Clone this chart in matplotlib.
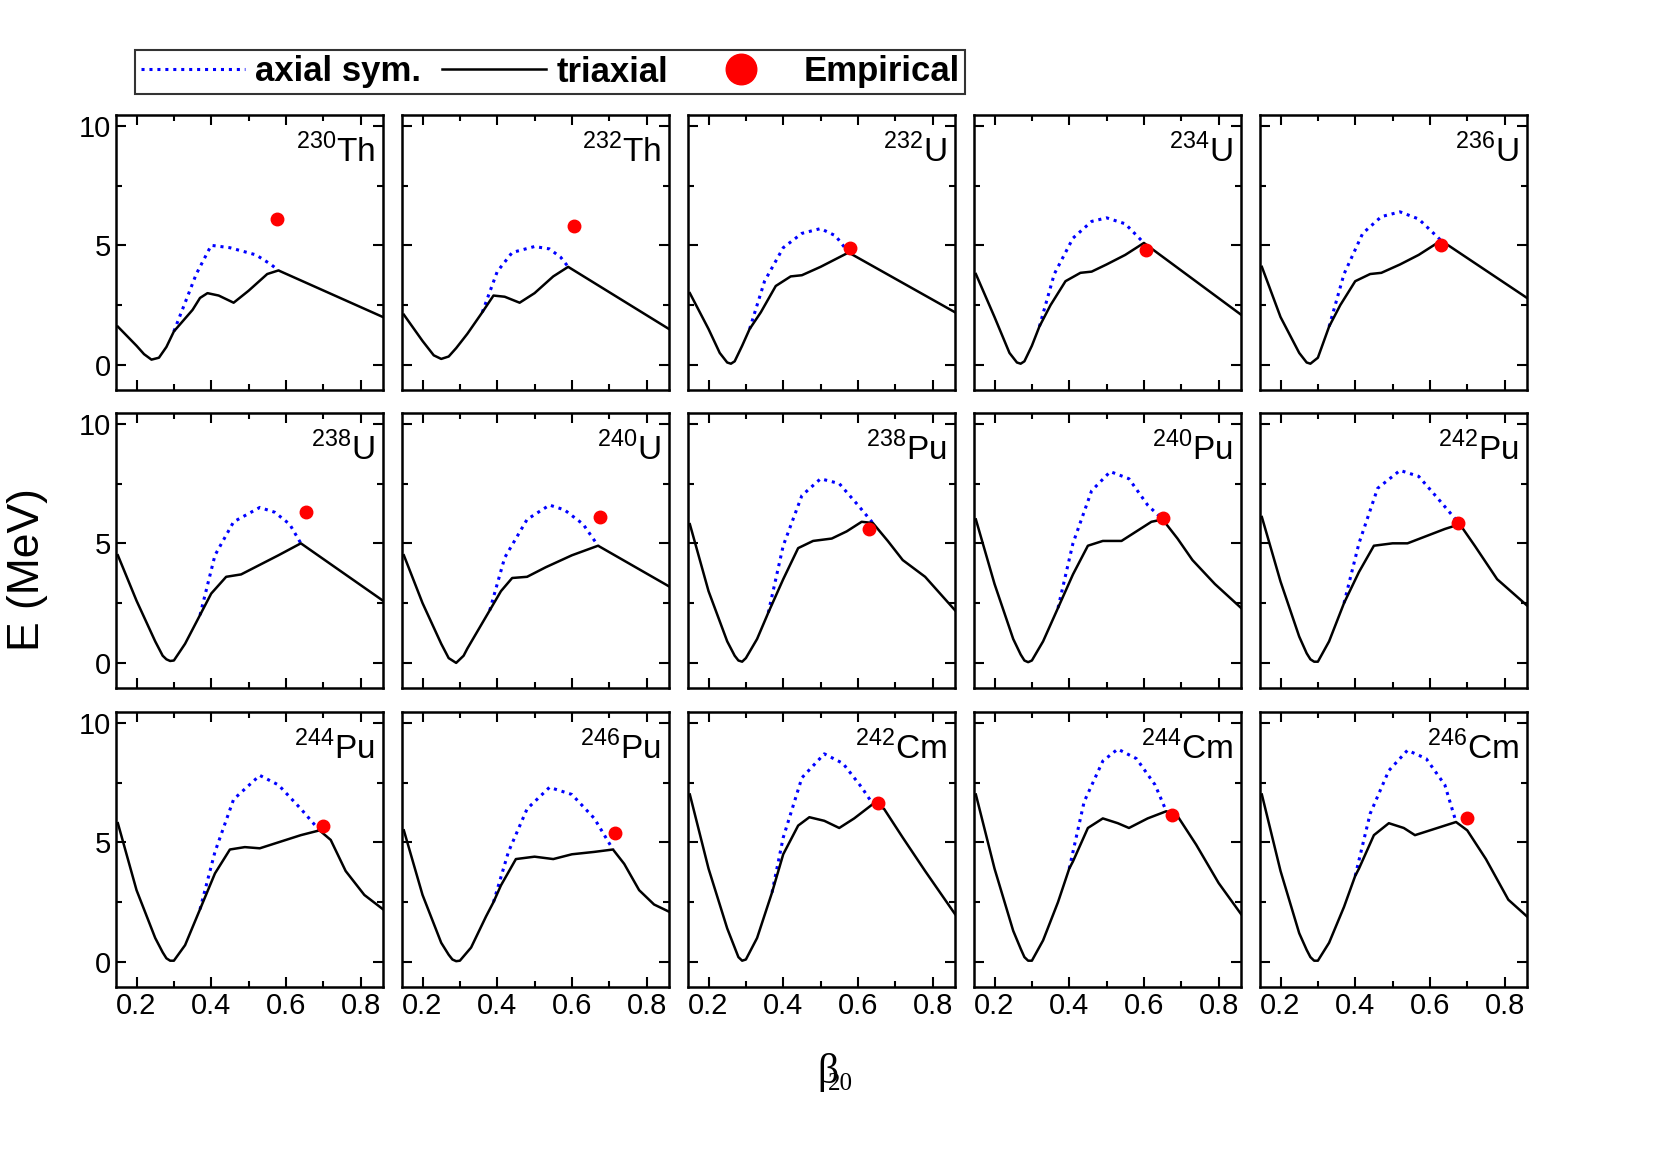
import matplotlib
matplotlib.use("Agg")
import matplotlib.pyplot as plt
from matplotlib.lines import Line2D
from matplotlib.ticker import MultipleLocator

plt.rcParams["font.family"] = ["Liberation Sans", "DejaVu Sans"]
plt.rcParams["mathtext.fontset"] = "custom"
plt.rcParams["mathtext.rm"] = "Liberation Sans"

NUCLEI = ["230Th", "232Th", "232U", "234U", "236U",
          "238U", "240U", "238Pu", "240Pu", "242Pu",
          "244Pu", "246Pu", "242Cm", "244Cm", "246Cm"]

# triaxial curves: (beta20, E)
TRI = {
    "230Th": [(0.15, 1.6), (0.2, 0.8), (0.22, 0.45), (0.24, 0.22), (0.26, 0.3), (0.28, 0.75), (0.30, 1.4),
              (0.35, 2.3), (0.37, 2.8), (0.39, 3.0), (0.42, 2.9), (0.46, 2.6), (0.50, 3.1), (0.55, 3.8),
              (0.58, 3.95), (0.86, 2.0)],
    "232Th": [(0.15, 2.1), (0.2, 1.0), (0.23, 0.4), (0.25, 0.25), (0.27, 0.35), (0.29, 0.7), (0.32, 1.3),
              (0.36, 2.2), (0.39, 2.9), (0.42, 2.85), (0.46, 2.6), (0.50, 3.0), (0.55, 3.7), (0.59, 4.1),
              (0.86, 1.5)],
    "232U": [(0.15, 3.0), (0.2, 1.5), (0.23, 0.5), (0.25, 0.1), (0.26, 0.05), (0.27, 0.15), (0.29, 0.8),
             (0.31, 1.5), (0.34, 2.2), (0.38, 3.3), (0.42, 3.7), (0.45, 3.75), (0.50, 4.1), (0.55, 4.5),
             (0.575, 4.7), (0.86, 2.2)],
    "234U": [(0.15, 3.8), (0.2, 2.0), (0.24, 0.5), (0.26, 0.1), (0.27, 0.05), (0.28, 0.15), (0.30, 0.8),
             (0.32, 1.6), (0.35, 2.5), (0.39, 3.5), (0.43, 3.85), (0.46, 3.9), (0.50, 4.2), (0.55, 4.6),
             (0.60, 5.1), (0.86, 2.1)],
    "236U": [(0.15, 4.1), (0.2, 2.0), (0.25, 0.5), (0.27, 0.1), (0.28, 0.05), (0.30, 0.3), (0.33, 1.6),
             (0.36, 2.5), (0.40, 3.5), (0.44, 3.8), (0.47, 3.85), (0.52, 4.2), (0.57, 4.6), (0.63, 5.2),
             (0.86, 2.8)],
    "238U": [(0.15, 4.5), (0.2, 2.6), (0.25, 0.9), (0.27, 0.3), (0.28, 0.15), (0.29, 0.08), (0.30, 0.1),
             (0.33, 0.8), (0.37, 2.0), (0.40, 2.9), (0.44, 3.6), (0.48, 3.7), (0.53, 4.1), (0.58, 4.5),
             (0.64, 5.0), (0.86, 2.6)],
    "240U": [(0.15, 4.5), (0.2, 2.5), (0.25, 0.8), (0.27, 0.2), (0.29, 0.0), (0.31, 0.3), (0.32, 0.6),
             (0.38, 2.2), (0.41, 3.0), (0.44, 3.55), (0.48, 3.6), (0.53, 4.0), (0.60, 4.5), (0.67, 4.9),
             (0.86, 3.2)],
    "238Pu": [(0.15, 5.8), (0.2, 3.0), (0.25, 0.9), (0.27, 0.3), (0.28, 0.1), (0.29, 0.05), (0.30, 0.2),
              (0.33, 1.0), (0.36, 2.1), (0.40, 3.5), (0.44, 4.8), (0.48, 5.1), (0.53, 5.2), (0.57, 5.5),
              (0.61, 5.9), (0.64, 5.85), (0.68, 5.1), (0.72, 4.3), (0.78, 3.6), (0.86, 2.2)],
    "240Pu": [(0.15, 6.0), (0.2, 3.3), (0.25, 1.0), (0.27, 0.35), (0.28, 0.1), (0.29, 0.03), (0.30, 0.1),
              (0.33, 0.9), (0.37, 2.3), (0.41, 3.7), (0.45, 4.9), (0.49, 5.1), (0.54, 5.1), (0.58, 5.5),
              (0.62, 5.9), (0.65, 6.0), (0.69, 5.2), (0.73, 4.3), (0.79, 3.3), (0.86, 2.3)],
    "242Pu": [(0.15, 6.1), (0.2, 3.4), (0.25, 1.1), (0.27, 0.4), (0.28, 0.15), (0.29, 0.05), (0.30, 0.05),
              (0.33, 0.9), (0.37, 2.5), (0.41, 3.8), (0.45, 4.9), (0.50, 5.0), (0.54, 5.0), (0.59, 5.3),
              (0.64, 5.6), (0.68, 5.8), (0.72, 4.9), (0.78, 3.5), (0.86, 2.4)],
    "244Pu": [(0.15, 5.8), (0.2, 3.0), (0.25, 1.0), (0.27, 0.4), (0.28, 0.15), (0.29, 0.05), (0.30, 0.05),
              (0.33, 0.7), (0.37, 2.2), (0.41, 3.7), (0.45, 4.7), (0.49, 4.8), (0.53, 4.75), (0.58, 5.0),
              (0.64, 5.3), (0.69, 5.5), (0.72, 5.1), (0.76, 3.8), (0.81, 2.8), (0.86, 2.2)],
    "246Pu": [(0.15, 5.5), (0.2, 2.8), (0.25, 0.8), (0.27, 0.3), (0.28, 0.1), (0.29, 0.03), (0.30, 0.05),
              (0.33, 0.6), (0.37, 1.9), (0.39, 2.5), (0.41, 3.2), (0.45, 4.3), (0.50, 4.4), (0.55, 4.3),
              (0.60, 4.5), (0.66, 4.6), (0.71, 4.7), (0.74, 4.1), (0.78, 3.0), (0.82, 2.4), (0.86, 2.1)],
    "242Cm": [(0.15, 7.0), (0.2, 3.9), (0.25, 1.4), (0.27, 0.6), (0.28, 0.2), (0.29, 0.05), (0.30, 0.1),
              (0.33, 1.0), (0.37, 2.9), (0.40, 4.5), (0.44, 5.7), (0.47, 6.05), (0.51, 5.9), (0.55, 5.6),
              (0.59, 6.0), (0.64, 6.6), (0.67, 6.4), (0.72, 5.2), (0.78, 3.8), (0.86, 2.0)],
    "244Cm": [(0.15, 7.0), (0.2, 3.9), (0.25, 1.3), (0.27, 0.55), (0.28, 0.2), (0.29, 0.05), (0.30, 0.05),
              (0.33, 0.9), (0.37, 2.5), (0.40, 3.9), (0.41, 4.2), (0.45, 5.6), (0.49, 6.0), (0.53, 5.8),
              (0.56, 5.6), (0.61, 6.0), (0.66, 6.3), (0.69, 6.1), (0.74, 4.9), (0.80, 3.3), (0.86, 2.0)],
    "246Cm": [(0.15, 7.0), (0.2, 3.8), (0.25, 1.2), (0.27, 0.5), (0.28, 0.2), (0.29, 0.05), (0.30, 0.05),
              (0.33, 0.8), (0.37, 2.3), (0.40, 3.6), (0.41, 3.9), (0.45, 5.3), (0.49, 5.8), (0.53, 5.6),
              (0.56, 5.3), (0.62, 5.6), (0.67, 5.85), (0.70, 5.5), (0.75, 4.3), (0.81, 2.6), (0.86, 1.9)],
}

# axial-symmetric branch over the first barrier
AXIAL = {
    "230Th": [(0.30, 1.4), (0.33, 2.6), (0.36, 3.8), (0.40, 5.0), (0.45, 4.9), (0.52, 4.6), (0.56, 4.2), (0.58, 3.95)],
    "232Th": [(0.36, 2.2), (0.40, 3.9), (0.44, 4.7), (0.50, 4.95), (0.54, 4.85), (0.57, 4.5), (0.59, 4.1)],
    "232U": [(0.31, 1.5), (0.35, 3.5), (0.40, 4.9), (0.45, 5.5), (0.50, 5.7), (0.54, 5.4), (0.575, 4.7)],
    "234U": [(0.32, 1.6), (0.36, 3.8), (0.41, 5.3), (0.46, 6.0), (0.50, 6.15), (0.55, 5.9), (0.60, 5.1)],
    "236U": [(0.33, 1.6), (0.37, 3.8), (0.42, 5.5), (0.47, 6.2), (0.52, 6.4), (0.57, 6.1), (0.63, 5.2)],
    "238U": [(0.37, 2.0), (0.41, 4.5), (0.46, 5.9), (0.53, 6.5), (0.57, 6.3), (0.61, 5.8), (0.64, 5.0)],
    "240U": [(0.38, 2.2), (0.42, 4.4), (0.48, 6.0), (0.54, 6.6), (0.58, 6.4), (0.63, 5.8), (0.67, 4.9)],
    "238Pu": [(0.36, 2.1), (0.40, 4.9), (0.45, 7.0), (0.50, 7.7), (0.55, 7.5), (0.60, 6.6), (0.64, 5.85)],
    "240Pu": [(0.37, 2.3), (0.41, 5.0), (0.46, 7.2), (0.51, 8.0), (0.56, 7.7), (0.61, 6.6), (0.65, 6.0)],
    "242Pu": [(0.37, 2.5), (0.41, 5.0), (0.46, 7.3), (0.52, 8.05), (0.57, 7.8), (0.62, 6.9), (0.68, 5.8)],
    "244Pu": [(0.37, 2.2), (0.41, 4.6), (0.46, 6.8), (0.53, 7.8), (0.58, 7.4), (0.64, 6.4), (0.69, 5.5)],
    "246Pu": [(0.39, 2.5), (0.43, 4.6), (0.48, 6.4), (0.54, 7.3), (0.60, 7.0), (0.66, 6.0), (0.71, 4.7)],
    "242Cm": [(0.37, 2.9), (0.40, 5.2), (0.45, 7.7), (0.51, 8.7), (0.56, 8.3), (0.61, 7.3), (0.64, 6.6)],
    "244Cm": [(0.40, 3.9), (0.44, 6.7), (0.49, 8.4), (0.53, 8.9), (0.58, 8.5), (0.63, 7.4), (0.66, 6.3)],
    "246Cm": [(0.40, 3.6), (0.44, 6.2), (0.49, 8.0), (0.54, 8.85), (0.59, 8.5), (0.64, 7.4), (0.67, 5.85)],
}

EMPIRICAL = {
    "230Th": (0.575, 6.1), "232Th": (0.605, 5.8), "232U": (0.58, 4.9), "234U": (0.605, 4.8),
    "236U": (0.63, 5.0), "238U": (0.655, 6.3), "240U": (0.675, 6.1), "238Pu": (0.63, 5.6),
    "240Pu": (0.65, 6.05), "242Pu": (0.675, 5.85), "244Pu": (0.70, 5.7), "246Pu": (0.715, 5.4),
    "242Cm": (0.655, 6.65), "244Cm": (0.675, 6.15), "246Cm": (0.70, 6.0),
}

W, H = 1653, 1158
fig = plt.figure(figsize=(W / 100, H / 100), dpi=100)

col_left = [116, 402, 688, 974, 1260]
row_top = [115, 413, 712]
pw, ph = 267, 275

for i, name in enumerate(NUCLEI):
    r, c = divmod(i, 5)
    ax = fig.add_axes([col_left[c] / W, 1 - (row_top[r] + ph) / H, pw / W, ph / H])
    ax.plot(*zip(*AXIAL[name]), color="blue", ls=(0, (1, 1.6)), lw=2.2)
    ax.plot(*zip(*TRI[name]), color="black", lw=1.8)
    ax.plot(*EMPIRICAL[name], "o", color="red", ms=9)
    ax.set_xlim(0.145, 0.86)
    ax.set_ylim(-1.05, 10.45)
    ax.xaxis.set_major_locator(MultipleLocator(0.2))
    ax.xaxis.set_minor_locator(MultipleLocator(0.1))
    ax.yaxis.set_major_locator(MultipleLocator(5))
    ax.yaxis.set_minor_locator(MultipleLocator(2.5))
    ax.tick_params(which="both", direction="in", top=True, right=True, width=1.5)
    ax.tick_params(which="major", length=7, labelsize=21)
    ax.tick_params(which="minor", length=4)
    for s in ax.spines.values():
        s.set_linewidth(1.8)
    if c != 0:
        ax.set_yticklabels([])
    if r != 2:
        ax.set_xticklabels([])
    mass, elem = name[:3], name[3:]
    ax.text(0.97, 0.93, r"$^{\mathrm{%s}}$%s" % (mass, elem), transform=ax.transAxes,
            ha="right", va="top", fontsize=24)

fig.text(28 / W, 1 - 570 / H, "E (MeV)", rotation=90, ha="center", va="center", fontsize=32)
fig.text(828 / W, 1 - 1072 / H, "β", ha="center", va="center", fontsize=30,
         family="Liberation Serif")
fig.text(840 / W, 1 - 1084 / H, "20", ha="center", va="center", fontsize=18,
         family="Liberation Serif")

handles = [
    Line2D([], [], color="blue", ls=(0, (1, 1.6)), lw=2.2),
    Line2D([], [], color="black", lw=1.8),
    Line2D([], [], color="red", marker="o", ls="none", ms=22),
]
leg = fig.legend(handles, ["axial sym.", "triaxial", "Empirical"], ncol=3,
                 loc="center left", bbox_to_anchor=(118 / W, 1 - 72 / H),
                 prop={"family": "Liberation Sans", "size": 25, "weight": "bold"},
                 frameon=True, fancybox=False, edgecolor="black", handlelength=3.0,
                 handletextpad=0.3, columnspacing=0.6, borderpad=0.15)
leg.get_frame().set_linewidth(1.5)

fig.savefig("out.png", dpi=100)
